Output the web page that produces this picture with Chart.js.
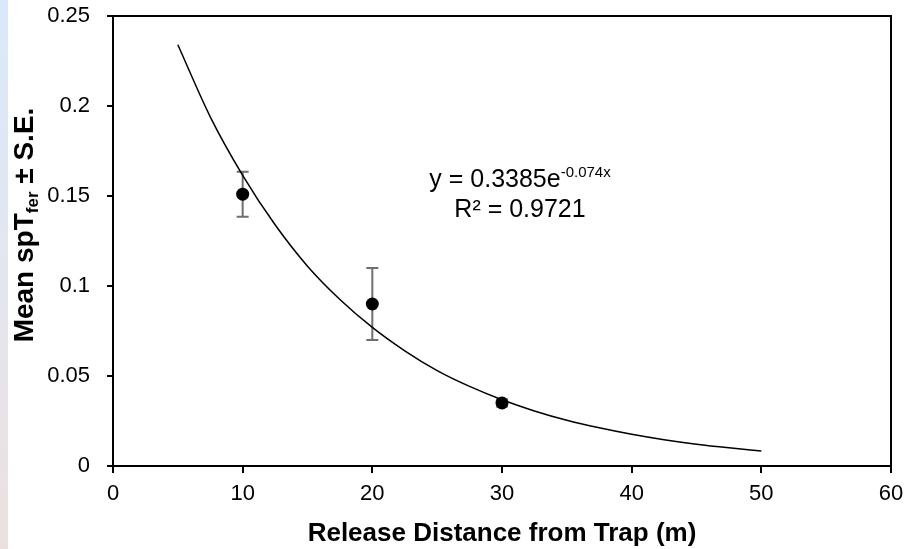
<!DOCTYPE html>
<html>
<head>
<meta charset="utf-8">
<script src="https://cdn.jsdelivr.net/npm/chart.js@4/dist/chart.umd.min.js"></script>
<style>
  html, body { margin: 0; padding: 0; background: #fff; }
  #wrap { position: relative; width: 906px; height: 549px; }
  #strip { position: absolute; left: 0; top: 0; width: 8px; height: 549px;
           background: linear-gradient(to bottom, #d9e9fb 0%, #e4e6ee 55%, #ece0df 100%); }
  canvas { position: absolute; left: 0; top: 0; }
</style>
</head>
<body>
<div id="wrap">
  <canvas id="c" width="906" height="549"></canvas>
  <div id="strip"></div>
</div>
<script>
// ---- data ----
const distances = [10, 20, 30];
const meanValues = [0.151, 0.090, 0.035];
const stdErrors = [0.0125, 0.020, 0.002];

const trendX = [5, 7.5, 10, 12.5, 15, 17.5, 20, 22.5, 25, 27.5, 30, 32.5, 35, 37.5, 40, 42.5, 45, 47.5, 50];
const trendY = [0.234, 0.194, 0.1615, 0.134, 0.111, 0.0925, 0.077, 0.064, 0.053, 0.0442, 0.0368, 0.0306, 0.0254, 0.0212, 0.0176, 0.0146, 0.0121, 0.0101, 0.0084];

const xTickValues = [0, 10, 20, 30, 40, 50, 60];
const yTickValues = [0, 0.05, 0.1, 0.15, 0.2, 0.25];
const yTickLabels = ['0', '0.05', '0.1', '0.15', '0.2', '0.25'];

const xTitle = 'Release Distance from Trap (m)';
const yTitleMain = 'Mean spT';
const yTitleSub = 'fer';
const yTitleEnd = ' \u00B1 S.E.';
const eqMain = 'y = 0.3385e';
const eqSup = '-0.074x';
const r2Text = 'R\u00B2 = 0.9721';

const FONT = '"Liberation Sans", Arial, sans-serif';

const pointsData = distances.map((d, i) => ({ x: d, y: meanValues[i] }));
const trendData = trendX.map((x, i) => ({ x: x, y: trendY[i] }));

const decorPlugin = {
  id: 'decor',
  beforeDatasetsDraw(chart) {
    const ctx = chart.ctx;
    const xs = chart.scales.x, ys = chart.scales.y;
    // error bars
    ctx.save();
    ctx.strokeStyle = '#6f6f6f';
    ctx.lineWidth = 2;
    distances.forEach((d, i) => {
      const px = xs.getPixelForValue(d);
      const top = ys.getPixelForValue(meanValues[i] + stdErrors[i]);
      const bot = ys.getPixelForValue(meanValues[i] - stdErrors[i]);
      ctx.beginPath();
      ctx.moveTo(px, top); ctx.lineTo(px, bot);
      ctx.moveTo(px - 6, top); ctx.lineTo(px + 6, top);
      ctx.moveTo(px - 6, bot); ctx.lineTo(px + 6, bot);
      ctx.stroke();
    });
    ctx.restore();
  },
  afterDraw(chart) {
    const ctx = chart.ctx;
    const a = chart.chartArea;
    ctx.save();
    // plot frame
    ctx.strokeStyle = '#000';
    ctx.lineWidth = 2;
    ctx.strokeRect(a.left, a.top, a.right - a.left, a.bottom - a.top);

    ctx.fillStyle = '#000';
    // x title
    ctx.font = 'bold 26px ' + FONT;
    ctx.textAlign = 'center';
    ctx.textBaseline = 'alphabetic';
    ctx.fillText(xTitle, (a.left + a.right) / 2, 541);

    // y title (rotated, with subscript)
    ctx.textAlign = 'left';
    const mainFont = 'bold 28px ' + FONT;
    const subFont = 'bold 17px ' + FONT;
    ctx.font = mainFont;
    const w1 = ctx.measureText(yTitleMain).width;
    const w3 = ctx.measureText(yTitleEnd).width;
    ctx.font = subFont;
    const w2 = ctx.measureText(yTitleSub).width;
    const total = w1 + w2 + w3;
    ctx.save();
    ctx.translate(33, 225);
    ctx.rotate(-Math.PI / 2);
    let sx = -total / 2;
    ctx.font = mainFont;
    ctx.fillText(yTitleMain, sx, 0);
    sx += w1;
    ctx.font = subFont;
    ctx.fillText(yTitleSub, sx, 5);
    sx += w2;
    ctx.font = mainFont;
    ctx.fillText(yTitleEnd, sx, 0);
    ctx.restore();

    // equation
    const eqFont = '25px ' + FONT;
    const supFont = '15px ' + FONT;
    ctx.font = eqFont;
    const e1 = ctx.measureText(eqMain).width;
    ctx.font = supFont;
    const e2 = ctx.measureText(eqSup).width;
    const cx = 520;
    let ex = cx - (e1 + e2) / 2;
    ctx.font = eqFont;
    ctx.fillText(eqMain, ex, 187);
    ctx.font = supFont;
    ctx.fillText(eqSup, ex + e1, 177);
    ctx.font = eqFont;
    ctx.textAlign = 'center';
    ctx.fillText(r2Text, cx, 217);
    ctx.restore();
  }
};

new Chart(document.getElementById('c'), {
  type: 'scatter',
  data: {
    datasets: [
      {
        label: 'points',
        data: pointsData,
        pointRadius: 6.5,
        pointHoverRadius: 6.5,
        pointBackgroundColor: '#000',
        pointBorderColor: '#000',
        pointBorderWidth: 0,
        showLine: false,
        order: 0
      },
      {
        label: 'trend',
        data: trendData,
        showLine: true,
        pointRadius: 0,
        borderColor: '#000',
        borderWidth: 1.5,
        cubicInterpolationMode: 'monotone',
        fill: false,
        order: 1
      }
    ]
  },
  options: {
    responsive: false,
    animation: false,
    devicePixelRatio: 1,
    layout: { padding: { top: 16, right: 15, left: 0, bottom: 0 } },
    plugins: { legend: { display: false }, tooltip: { enabled: false } },
    scales: {
      x: {
        type: 'linear',
        min: 0, max: 60,
        afterBuildTicks(scale) { scale.ticks = xTickValues.map(v => ({ value: v })); },
        afterFit(scale) { scale.height = 83; scale.paddingLeft = 0; scale.paddingRight = 0; },
        ticks: { color: '#000', font: { family: FONT, size: 22 }, padding: 8, maxRotation: 0,
                 callback: (v) => String(v) },
        grid: { drawOnChartArea: false, drawTicks: true, tickLength: 7, color: '#000', lineWidth: 2 },
        border: { display: true, color: '#000', width: 2 }
      },
      y: {
        type: 'linear',
        min: 0, max: 0.25,
        afterBuildTicks(scale) { scale.ticks = yTickValues.map(v => ({ value: v })); },
        afterFit(scale) { scale.width = 113; scale.paddingTop = 0; scale.paddingBottom = 0; },
        ticks: { color: '#000', font: { family: FONT, size: 22 }, padding: 17,
                 callback: (v, i) => yTickLabels[i] },
        grid: { drawOnChartArea: false, drawTicks: true, tickLength: 6, color: '#000', lineWidth: 2 },
        border: { display: true, color: '#000', width: 2 }
      }
    }
  },
  plugins: [decorPlugin]
});
</script>
</body>
</html>
